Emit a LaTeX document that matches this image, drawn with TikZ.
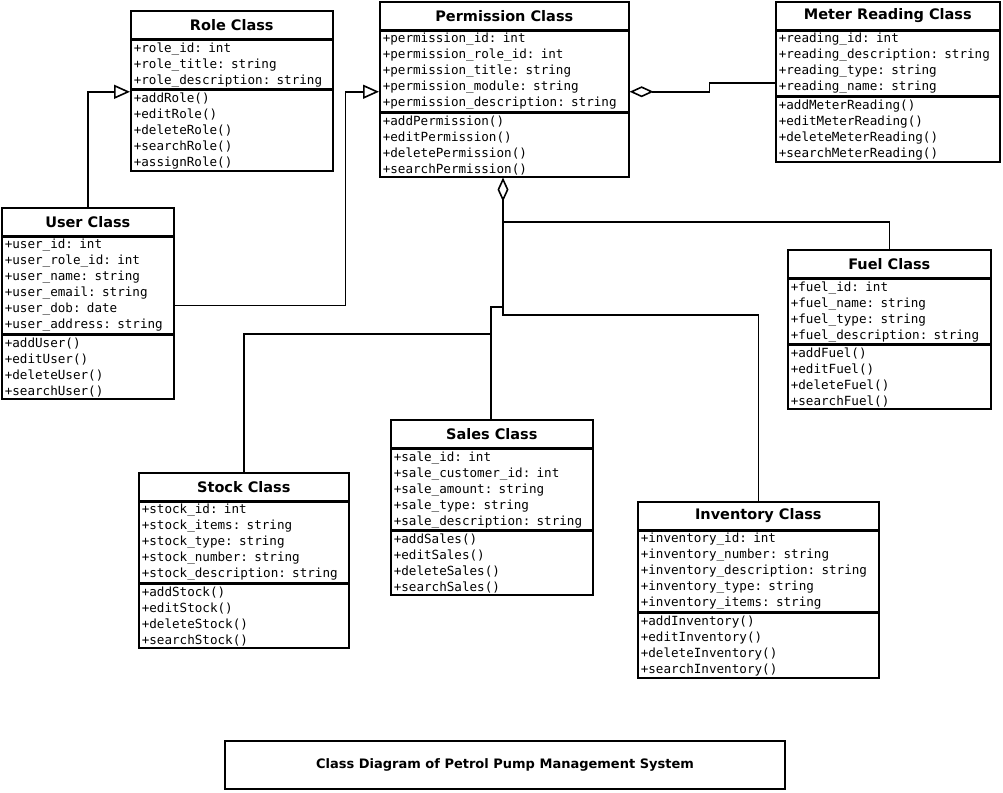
\documentclass[tikz,border=0pt]{standalone}
\usepackage{fontspec}
\setmainfont{DejaVu Sans}
\setmonofont{DejaVu Sans Mono}
\usetikzlibrary{arrows.meta,positioning,calc}

% one class box: name, x, y, width, title, attributes, methods
\newcommand{\classbox}[7]{%
  \node[ctitle,minimum width=#4pt] (#1-t) at (#2pt,-#3pt) {#5};
  \node[cpart,text width=#4pt-6pt,below=0pt of #1-t] (#1-a) {#6};
  \node[cpart,text width=#4pt-6pt,below=0pt of #1-a] (#1-m) {#7};
}

\begin{document}
\begin{tikzpicture}[x=1pt,y=1pt,line width=1.6pt,
    ctitle/.style={draw,anchor=north west,minimum height=28pt,inner sep=0pt,font=\fontsize{14.5}{16}\selectfont\bfseries},
    cpart/.style={draw,align=left,inner xsep=3pt,inner ysep=2pt,font=\fontsize{12.6}{16}\selectfont\ttfamily},
    inh/.style={-{Triangle[open,length=16pt,width=14pt]}},
    agg/.style={{Diamond[open,length=24pt,width=11pt]}-}]
  \useasboundingbox (0,0) rectangle (1003,-792);

  % classes
  \classbox{role}{130}{10}{202}{Role Class}{+role\_id: int\\+role\_title: string\\+role\_description: string}{+addRole()\\+editRole()\\+deleteRole()\\+searchRole()\\+assignRole()}
  \classbox{perm}{379}{1}{249}{Permission Class}{+permission\_id: int\\+permission\_role\_id: int\\+permission\_title: string\\+permission\_module: string\\+permission\_description: string}{+addPermission()\\+editPermission()\\+deletePermission()\\+searchPermission()}
  \classbox{meter}{775}{1}{224}{Meter Reading Class}{+reading\_id: int\\+reading\_description: string\\+reading\_type: string\\+reading\_name: string}{+addMeterReading()\\+editMeterReading()\\+deleteMeterReading()\\+searchMeterReading()}
  \classbox{user}{1}{207}{172}{User Class}{+user\_id: int\\+user\_role\_id: int\\+user\_name: string\\+user\_email: string\\+user\_dob: date\\+user\_address: string}{+addUser()\\+editUser()\\+deleteUser()\\+searchUser()}
  \classbox{fuel}{787}{249}{203}{Fuel Class}{+fuel\_id: int\\+fuel\_name: string\\+fuel\_type: string\\+fuel\_description: string}{+addFuel()\\+editFuel()\\+deleteFuel()\\+searchFuel()}
  \classbox{sales}{390}{419}{202}{Sales Class}{+sale\_id: int\\+sale\_customer\_id: int\\+sale\_amount: string\\+sale\_type: string\\+sale\_description: string}{+addSales()\\+editSales()\\+deleteSales()\\+searchSales()}
  \classbox{stock}{138}{472}{210}{Stock Class}{+stock\_id: int\\+stock\_items: string\\+stock\_type: string\\+stock\_number: string\\+stock\_description: string}{+addStock()\\+editStock()\\+deleteStock()\\+searchStock()}
  \classbox{inv}{637}{501}{241}{Inventory Class}{+inventory\_id: int\\+inventory\_number: string\\+inventory\_description: string\\+inventory\_type: string\\+inventory\_items: string}{+addInventory()\\+editInventory()\\+deleteInventory()\\+searchInventory()}

  % caption
  \node[draw,minimum width=560pt,minimum height=48pt,font=\fontsize{13}{16}\selectfont\bfseries] (caption) at (505,-765) {Class Diagram of Petrol Pump Management System};

  % connectors
  \draw[inh] (user-t.north) |- ([yshift=-2pt]role-m.north west);
  \draw[inh] ([yshift=-20pt]user-a.east) -| ++(171,0) |- ([yshift=21pt]perm-m.north west);
  \draw[agg] ([yshift=21pt]perm-m.north east) -- ++(80,0) |- ([yshift=14pt]meter-m.north west);
  \draw[agg] (perm-m.south -| 503,0) |- (fuel-t.north |- 0,-222) -- (fuel-t.north);
  \draw (503,-222) -- (503,-315) -| (inv-t.north);
  \draw (sales-t.north -| 491,0) |- (503,-307);
  \draw (stock-t.north) |- (491,-334);
\end{tikzpicture}
\end{document}
